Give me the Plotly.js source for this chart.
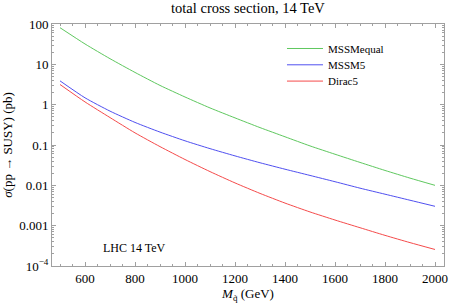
<!DOCTYPE html>
<html>
<head>
<meta charset="utf-8">
<script src="https://cdn.plot.ly/plotly-3.0.1.min.js"></script>
<style>html,body{margin:0;padding:0;background:#fff;}#chart{width:450px;height:303px;}</style>
</head>
<body>
<div id="chart"></div>
<script>
// Squark mass (GeV)
const masses = [500, 600, 700, 800, 900, 1000, 1100, 1200, 1300, 1400, 1500, 1600, 1700, 1800, 1900, 2000];
// total cross sections (pb)
const mssmEqual = [81, 32, 13.8, 6.3, 3.0, 1.55, 0.83, 0.47, 0.27, 0.16, 0.095, 0.059, 0.037, 0.0234, 0.0151, 0.0100];
const mssm5 = [3.89, 1.48, 0.692, 0.363, 0.209, 0.127, 0.0813, 0.0537, 0.0363, 0.0251, 0.0176, 0.0123, 0.00851, 0.00603, 0.00427, 0.00302];
const dirac5 = [3.16, 1.17, 0.479, 0.200, 0.0912, 0.0437, 0.0219, 0.01148, 0.00631, 0.00363, 0.00219, 0.00138, 0.00089, 0.000575, 0.00038, 0.000257];

const seriesNames = ['MSSMequal', 'MSSM5', 'Dirac5'];
const xTickVals = [600, 800, 1000, 1200, 1400, 1600, 1800, 2000];
const yTickVals = [100, 10, 1, 0.1, 0.01, 0.001, 0.0001];
const yTickText = ['100', '10', '1', '0.1', '0.01', '0.001', '10<sup>\u22124</sup>'];

const yMinor = [];
for (let e = -4; e < 2; e++) for (let m = 2; m <= 9; m++) yMinor.push(m * Math.pow(10, e));
const xMinor = [];
for (let v = 500; v <= 2000; v += 50) if (xTickVals.indexOf(v) < 0) xMinor.push(v);

const colors = ['rgb(95,200,95)', 'rgb(80,80,240)', 'rgb(245,75,75)'];
const serif = 'Liberation Serif, Times New Roman, serif';
const axisCol = 'rgb(160,160,160)';
const legendIds = ['legend', 'legend2', 'legend3'];
const legendY = [0.9587, 0.8913, 0.824];

const traces = [mssmEqual, mssm5, dirac5].map((ys, i) => ({
  x: masses, y: ys, type: 'scatter', mode: 'lines', name: seriesNames[i], legend: legendIds[i],
  line: {color: colors[i], width: 1, shape: 'spline', smoothing: 0.6}
}));

const layout = {
  width: 450, height: 303,
  margin: {l: 52, r: 6, t: 24, b: 37},
  paper_bgcolor: '#fff', plot_bgcolor: '#fff',
  font: {family: serif, size: 13, color: '#000'},
  title: {text: 'total cross section, 14 TeV', font: {family: serif, size: 14.5, color: '#000'},
          x: 0.551, xanchor: 'center', y: 0.992, yanchor: 'top'},
  xaxis: {
    type: 'linear', range: [468, 2036], showgrid: false, zeroline: false,
    showline: true, linecolor: axisCol, linewidth: 1, mirror: 'ticks',
    ticks: 'inside', ticklen: 4, tickcolor: axisCol, tickmode: 'array', tickvals: xTickVals,
    tickfont: {family: serif, size: 13, color: '#000'},
    minor: {ticks: 'inside', ticklen: 2, tickcolor: axisCol, tickmode: 'array', tickvals: xMinor, showgrid: false},
    title: {text: '<i>M</i><sub>q\u0303</sub> (GeV)', font: {family: serif, size: 13, color: '#000'}, standoff: 6}
  },
  yaxis: {
    type: 'log', range: [-4, 2], showgrid: false, zeroline: false,
    showline: true, linecolor: axisCol, linewidth: 1, mirror: 'ticks',
    ticks: 'inside', ticklen: 4, tickcolor: axisCol, tickmode: 'array', tickvals: yTickVals, ticktext: yTickText,
    tickfont: {family: serif, size: 13, color: '#000'},
    minor: {ticks: 'inside', ticklen: 2, tickcolor: axisCol, tickmode: 'array', tickvals: yMinor, showgrid: false},
    title: {text: '<i>\u03c3</i>(pp \u2192 SUSY) (pb)', font: {family: serif, size: 13, color: '#000'}, standoff: 4}
  },
  showlegend: true,
  annotations: [{text: 'LHC 14 TeV', xref: 'paper', yref: 'paper', x: 0.21, y: 0.075,
                 xanchor: 'center', yanchor: 'middle', showarrow: false,
                 font: {family: serif, size: 12, color: '#000'}}]
};
legendIds.forEach((id, i) => {
  layout[id] = {x: 0.5867, y: legendY[i], xanchor: 'left', yanchor: 'top', bgcolor: 'rgba(0,0,0,0)',
                font: {family: serif, size: 11, color: '#000'}, itemwidth: 36};
});

Plotly.newPlot('chart', traces, layout, {displayModeBar: false, staticPlot: true});
</script>
</body>
</html>
